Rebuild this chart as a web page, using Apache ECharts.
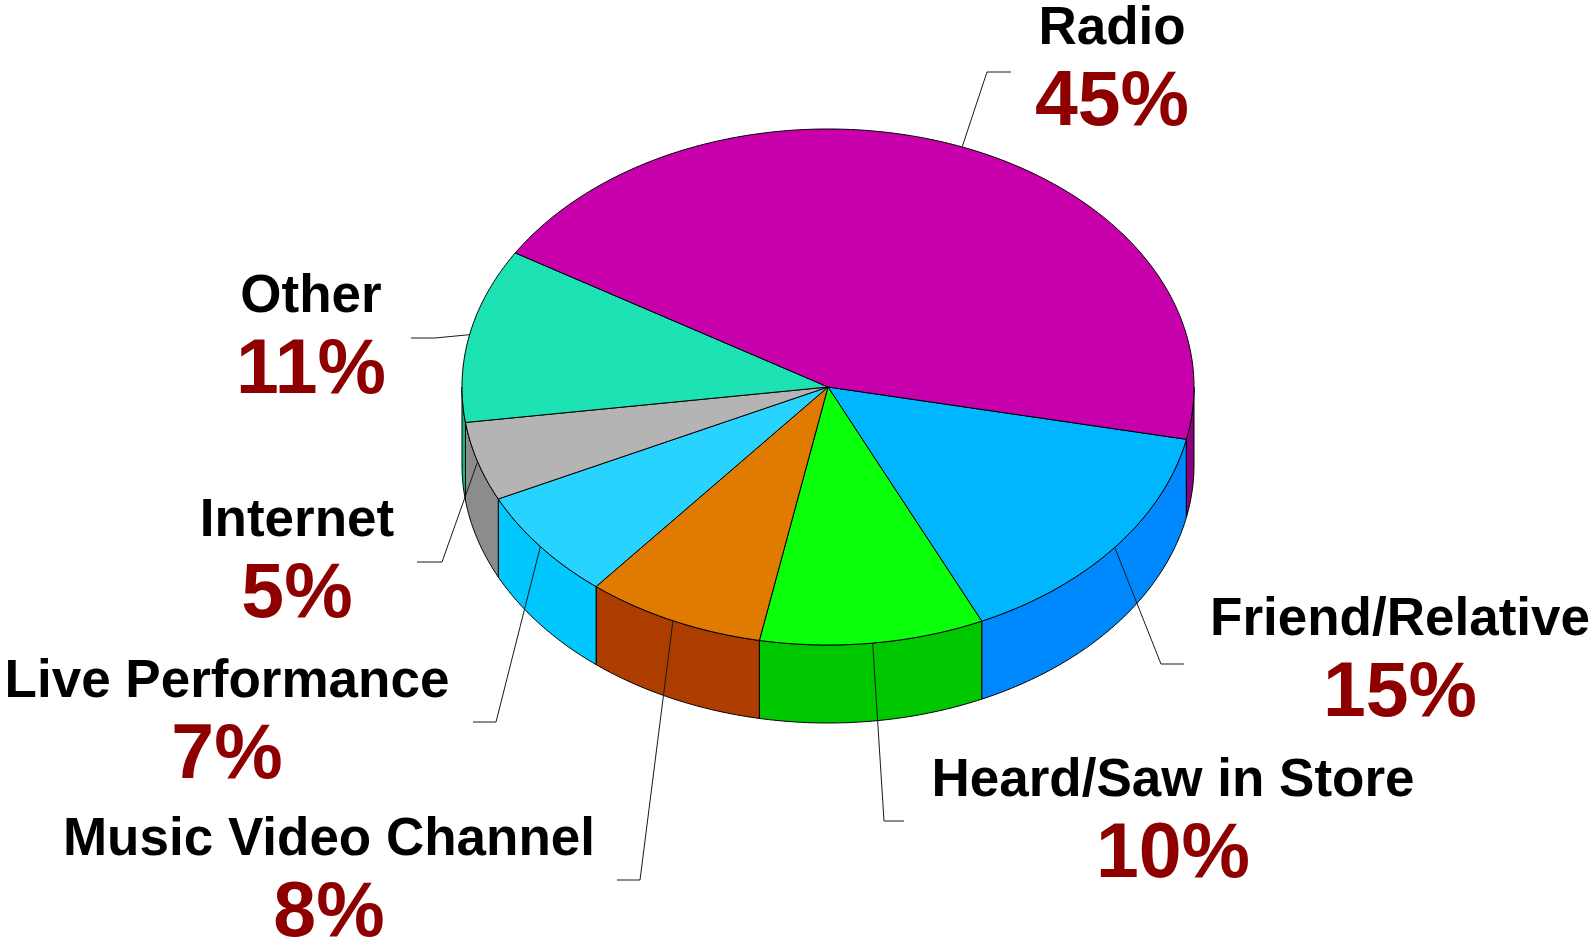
<!DOCTYPE html>
<html>
<head>
<meta charset="utf-8">
<title>How listeners discover music</title>
<script src="https://cdn.jsdelivr.net/npm/echarts@6/dist/echarts.min.js"></script>
<style>
  html, body { margin: 0; padding: 0; background: #ffffff; }
  #chart { width: 1593px; height: 947px; }
</style>
</head>
<body>
<div id="chart"></div>
<script>
// Slices in clockwise order, starting just below the right-hand edge.
const categories = ['Friend/Relative', 'Heard/Saw in Store', 'Music Video Channel', 'Live Performance', 'Internet', 'Other', 'Radio'];
const shares = [15, 10, 8, 7, 5, 11, 45];
const pctLabels = ['15%', '10%', '8%', '7%', '5%', '11%', '45%'];

const topColors = ['#00B6FF', '#0AFF0A', '#E17A00', '#28D4FF', '#B4B4B4', '#1CE2B4', '#C700AC'];
const sideColors = ['#0088FF', '#00C800', '#AE3D00', '#00C8FF', '#8C8C8C', '#14B88E', '#8B0080'];

// Tilted disc geometry (pixels) and the angle where the first slice begins.
const disc = { cx: 828, cy: 387, rx: 366, ry: 258, depth: 78, startDeg: 11.7 };

// Where each callout sits: name centre, leader elbow, leader end.
const callouts = [
  { name: [1400, 620], elbow: [1161, 664], end: [1184, 664] },
  { name: [1173, 781], elbow: [884, 821], end: [904, 821] },
  { name: [329, 840], elbow: [640, 880], end: [617, 880] },
  { name: [227, 682], elbow: [496, 722], end: [473, 722] },
  { name: [297, 521], elbow: [442, 562], end: [417, 562] },
  { name: [311, 297], elbow: [435, 338], end: [411, 338] },
  { name: [1112, 29], elbow: [987, 72], end: [1011, 72] }
];
const pctOffset = 75;

const total = shares.reduce((a, b) => a + b, 0);
const spans = [];
let acc = disc.startDeg;
shares.forEach(v => {
  const sweep = v / total * 360;
  spans.push([acc, acc + sweep]);
  acc += sweep;
});

function rim(deg, drop) {
  const r = deg * Math.PI / 180;
  return [disc.cx + disc.rx * Math.cos(r), disc.cy + disc.ry * Math.sin(r) + (drop || 0)];
}

function arcPoints(a, b, drop) {
  const pts = [];
  const n = Math.max(2, Math.ceil(Math.abs(b - a) / 0.75));
  for (let k = 0; k <= n; k++) pts.push(rim(a + (b - a) * k / n, drop));
  return pts;
}

// Parts of a slice's outer wall that face the viewer (front half of the disc).
function frontRanges(a, b) {
  const out = [];
  [[0, 180], [360, 540]].forEach(([lo, hi]) => {
    const s = Math.max(a, lo), e = Math.min(b, hi);
    if (e > s) out.push([s, e]);
  });
  return out;
}

const font = '"Liberation Sans", Arial, Helvetica, sans-serif';

function renderSlice(params, api) {
  const i = params.dataIndex;
  const [a, b] = spans[i];
  const children = [];

  frontRanges(a, b).forEach(([s, e]) => {
    const upper = arcPoints(s, e, 0);
    const lower = arcPoints(s, e, disc.depth).reverse();
    children.push({
      type: 'polygon',
      z2: 1,
      shape: { points: upper.concat(lower) },
      style: { fill: sideColors[i], stroke: '#000', lineWidth: 1, lineJoin: 'round' }
    });
  });

  children.push({
    type: 'polygon',
    z2: 2,
    shape: { points: [[disc.cx, disc.cy]].concat(arcPoints(a, b, 0)) },
    style: { fill: topColors[i], stroke: '#000', lineWidth: 1, lineJoin: 'round' }
  });

  const c = callouts[i];
  const mid = rim((a + b) / 2, 0);
  children.push({
    type: 'polyline',
    z2: 3,
    shape: { points: [mid, c.elbow, c.end] },
    style: { stroke: '#1a1a1a', lineWidth: 1, fill: null }
  });

  children.push({
    type: 'text',
    z2: 4,
    style: {
      x: c.name[0], y: c.name[1],
      text: categories[i],
      fill: '#000',
      font: 'bold 53px ' + font,
      align: 'center', verticalAlign: 'middle'
    }
  });
  children.push({
    type: 'text',
    z2: 4,
    style: {
      x: c.name[0], y: c.name[1] + pctOffset,
      text: pctLabels[i],
      fill: '#8E0000',
      font: 'bold 77px ' + font,
      align: 'center', verticalAlign: 'middle'
    }
  });

  return { type: 'group', children: children };
}

const chart = echarts.init(document.getElementById('chart'), null, { renderer: 'canvas' });
chart.setOption({
  backgroundColor: '#ffffff',
  animation: false,
  series: [{
    type: 'custom',
    coordinateSystem: 'none',
    silent: true,
    renderItem: renderSlice,
    data: shares.map((v, i) => ({ name: categories[i], value: v }))
  }]
});
</script>
</body>
</html>
